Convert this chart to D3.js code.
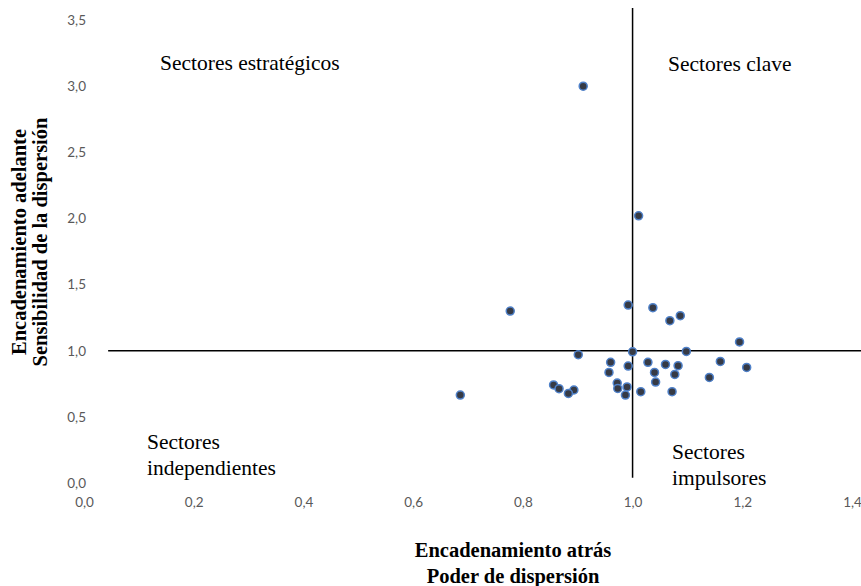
<!DOCTYPE html>
<html>
<head>
<meta charset="utf-8">
<script src="https://cdn.jsdelivr.net/npm/d3@7/dist/d3.min.js"></script>
<style>
  html, body { margin: 0; padding: 0; background: #fff; }
  svg { display: block; }
</style>
</head>
<body>
<svg id="chart" width="861" height="586"></svg>
<script>
// ---- Data ----
const xTicks = [0, 0.2, 0.4, 0.6, 0.8, 1.0, 1.2, 1.4];
const yTicks = [0, 0.5, 1.0, 1.5, 2.0, 2.5, 3.0, 3.5];

// Poder de dispersión (encadenamiento atrás)
const xValues = [0.777, 0.992, 1.037, 1.068, 1.087, 1.195, 0.901, 1.000, 1.098, 0.960,
                 0.992, 1.028, 1.060, 1.083, 1.160, 1.208, 0.957, 1.040, 1.077, 1.140,
                 1.042, 0.972, 0.856, 0.866, 0.893, 0.883, 0.973, 0.990, 0.987, 1.015,
                 1.072, 0.686, 0.910, 1.011];
// Sensibilidad de la dispersión (encadenamiento adelante)
const yValues = [1.300, 1.345, 1.325, 1.227, 1.265, 1.066, 0.970, 0.992, 0.995, 0.912,
                 0.884, 0.912, 0.896, 0.887, 0.919, 0.874, 0.836, 0.836, 0.821, 0.798,
                 0.763, 0.756, 0.741, 0.713, 0.703, 0.677, 0.715, 0.726, 0.665, 0.690,
                 0.690, 0.665, 3.000, 2.020];

// Reference lines (averages = 1)
const hLineX = [0.044, 1.42];
const hLineY = 1.0;
const vLineX = 1.0;
const vLineY = [0.04, 3.59];

const quadrantLabels = [
  ["Sectores estratégicos"],
  ["Sectores clave"],
  ["Sectores", "independientes"],
  ["Sectores", "impulsores"]
];
const xTitle = ["Encadenamiento atrás", "Poder de dispersión"];
const yTitle = ["Encadenamiento adelante", "Sensibilidad de la dispersión"];

// ---- Drawing ----
const svg = d3.select("#chart");
const x = d3.scaleLinear().domain([0, 1.4]).range([84, 852]);
const y = d3.scaleLinear().domain([0, 3.5]).range([483, 20]);
const fmt = d => d.toFixed(1).replace(".", ",");

const tickFont = "Lato, 'Open Sans', sans-serif";
const serif = "'Liberation Serif', 'Times New Roman', serif";

// Y axis
const yAxis = svg.append("g")
  .attr("transform", `translate(86,0)`)
  .call(d3.axisLeft(y).tickValues(yTicks).tickFormat(fmt).tickSize(0).tickPadding(0));
yAxis.select(".domain").remove();
yAxis.selectAll("text").attr("font-family", tickFont).attr("font-size", 13.5).attr("fill", "#595959");

// X axis
const xAxis = svg.append("g")
  .attr("transform", `translate(0,497)`)
  .call(d3.axisBottom(x).tickValues(xTicks).tickFormat(fmt).tickSize(0).tickPadding(0));
xAxis.select(".domain").remove();
xAxis.selectAll("text").attr("font-family", tickFont).attr("font-size", 13.5).attr("fill", "#595959");

// Reference lines
svg.append("line")
  .attr("x1", x(hLineX[0])).attr("x2", x(hLineX[1]))
  .attr("y1", y(hLineY)).attr("y2", y(hLineY))
  .attr("stroke", "#000").attr("stroke-width", 1.5);
svg.append("line")
  .attr("x1", x(vLineX)).attr("x2", x(vLineX))
  .attr("y1", y(vLineY[0])).attr("y2", y(vLineY[1]))
  .attr("stroke", "#000").attr("stroke-width", 1.5);

// Points
const pts = xValues.map((v, i) => ({ x: v, y: yValues[i] }));
svg.append("g").selectAll("circle").data(pts).join("circle")
  .attr("cx", d => x(d.x)).attr("cy", d => y(d.y))
  .attr("r", 4)
  .attr("fill", "#363a45")
  .attr("stroke", "#4f81c9")
  .attr("stroke-width", 1.5);

// Quadrant labels
const qPos = [[160, 70], [668, 71], [147, 449], [672, 459]];
quadrantLabels.forEach((lines, i) => {
  const t = svg.append("text")
    .attr("x", qPos[i][0]).attr("y", qPos[i][1])
    .attr("font-family", serif).attr("font-size", 21.5).attr("fill", "#000");
  lines.forEach((l, j) => {
    t.append("tspan").attr("x", qPos[i][0]).attr("dy", j === 0 ? 0 : 25.5).text(l);
  });
});

// Axis titles
xTitle.forEach((l, j) => {
  svg.append("text")
    .attr("x", 513).attr("y", 557 + j * 26)
    .attr("text-anchor", "middle")
    .attr("font-family", serif).attr("font-weight", "bold").attr("font-size", 20.5)
    .attr("fill", "#000").text(l);
});
yTitle.forEach((l, j) => {
  svg.append("text")
    .attr("transform", `translate(${26 + j * 21},${242}) rotate(-90)`)
    .attr("text-anchor", "middle")
    .attr("font-family", serif).attr("font-weight", "bold").attr("font-size", 20.5)
    .attr("fill", "#000").text(l);
});
</script>
</body>
</html>
